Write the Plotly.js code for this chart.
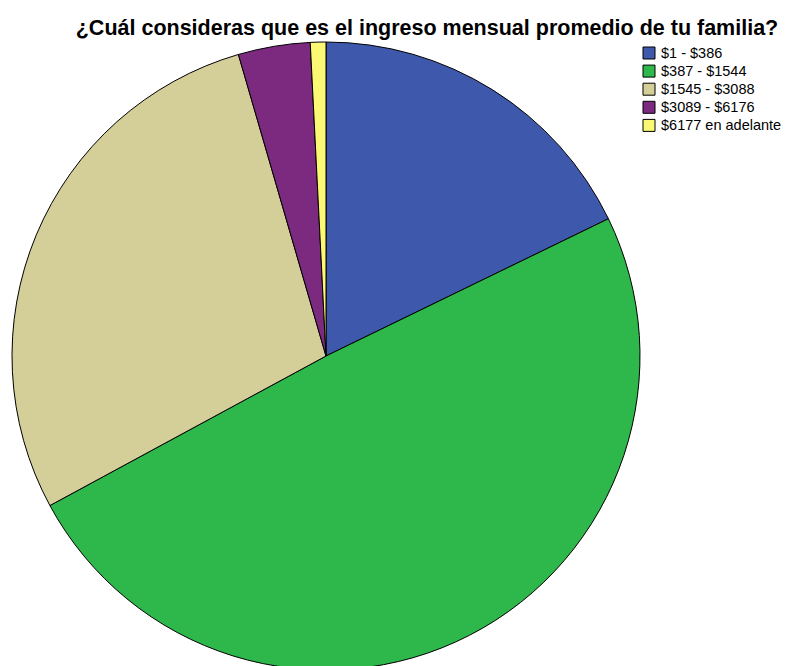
<!DOCTYPE html>
<html><head><meta charset="utf-8">
<script src="https://cdn.plot.ly/plotly-3.0.1.min.js"></script>
<style>html,body{margin:0;padding:0;overflow:hidden;background:#fff;width:785px;height:666px}</style>
</head><body>
<div id="chart" style="width:785px;height:680px"></div>
<script>
const categories = ["$1 - $386", "$387 - $1544", "$1545 - $3088", "$3089 - $6176", "$6177 en adelante"];
const percentages = [17.8, 49.3, 28.4, 3.7, 0.8];
const colors = ["#3E58AC", "#2EB74A", "#D4CE99", "#7B2A80", "#FBF873"];

const W = 785, H = 680;
const trace = {
  type: "pie",
  labels: categories,
  values: percentages,
  sort: false,
  direction: "clockwise",
  rotation: 0,
  textinfo: "none",
  hoverinfo: "label+percent",
  marker: {colors: colors, line: {color: "#000", width: 1}},
  domain: {x: [12/W, 640/W], y: [(H-670)/H, (H-42)/H]},
  showlegend: false
};

// custom legend (SPSS style), built from categories/colors
const shapes = [], annotations = [];
const legX = 643, legY0 = 53, legStep = 18.1, box = 12;
categories.forEach((c, i) => {
  const cy = legY0 + i * legStep;
  shapes.push({
    type: "rect", xref: "paper", yref: "paper",
    x0: legX / W, x1: (legX + box) / W,
    y0: (H - (cy + box / 2)) / H, y1: (H - (cy - box / 2)) / H,
    fillcolor: colors[i], line: {color: "#000", width: 1}
  });
  annotations.push({
    xref: "paper", yref: "paper", x: (legX + box + 4) / W, y: (H - cy) / H,
    xanchor: "left", yanchor: "middle", showarrow: false, text: c,
    font: {family: "Liberation Sans, Arial, sans-serif", size: 14.5, color: "#000"}
  });
});

const layout = {
  width: W, height: H,
  margin: {l: 0, r: 0, t: 0, b: 0},
  paper_bgcolor: "#fff",
  title: {
    text: "<b>¿Cuál consideras que es el ingreso mensual promedio de tu familia?</b>",
    font: {family: "Liberation Sans, Arial, sans-serif", size: 21.5, color: "#000"},
    x: 427/W, xanchor: "center", xref: "paper",
    y: (H-27)/H, yanchor: "middle", yref: "paper"
  },
  showlegend: false,
  shapes: shapes,
  annotations: annotations
};
Plotly.newPlot("chart", [trace], layout, {displayModeBar: false, staticPlot: true});
</script>
</body></html>
